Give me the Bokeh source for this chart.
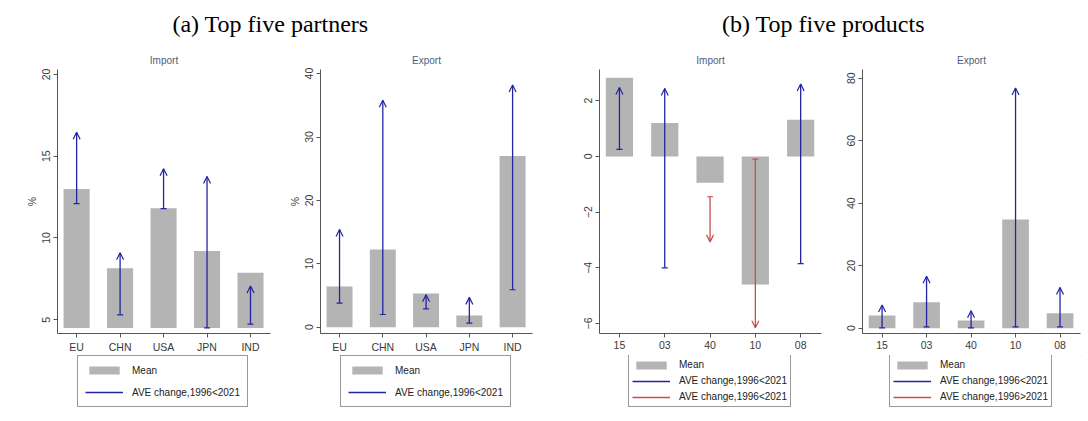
import numpy as np
from bokeh.plotting import figure
from bokeh.models import (ColumnDataSource, Range1d, FixedTicker, Legend, LegendItem,
                          Arrow, OpenHead, TeeHead, Spacer)
from bokeh.layouts import column, row
from bokeh.embed import file_html
from bokeh.resources import INLINE
from bokeh.core.properties import value

# ---------------- data ----------------
partners = ["EU", "CHN", "USA", "JPN", "IND"]
products = ["15", "03", "40", "10", "08"]

imp_partner_mean = [13.0, 8.15, 11.82, 9.2, 7.87]
imp_partner_start = [12.1, 5.3, 11.8, 4.5, 4.73]
imp_partner_end = [16.47, 9.1, 14.23, 13.76, 7.07]

exp_partner_mean = [6.4, 12.25, 5.3, 1.85, 27.0]
exp_partner_start = [3.8, 2.0, 2.9, 0.65, 5.9]
exp_partner_end = [15.4, 35.8, 5.1, 4.7, 38.2]

imp_product_mean = [2.82, 1.2, -0.95, -4.6, 1.32]
imp_product_start = [0.25, -4.0, -1.45, -0.1, -3.85]
imp_product_end = [2.47, 2.44, -3.07, -6.15, 2.6]

exp_product_mean = [4.05, 8.3, 2.5, 34.8, 4.8]
exp_product_start = [0.1, 0.4, 0.1, 0.4, 0.4]
exp_product_end = [7.4, 16.6, 5.6, 76.9, 13.0]

imp_partner_ticks = [5, 10, 15, 20]
exp_partner_ticks = [0, 10, 20, 30, 40]
imp_product_ticks = [-6, -4, -2, 0, 2]
exp_product_ticks = [0, 20, 40, 60, 80]

label_mean = "Mean"
label_up = "AVE change,1996<2021"
label_down_import = "AVE change,1996<2021"
label_down_export = "AVE change,1996>2021"

# ---------------- style ----------------
BAR = "#b4b4b4"
BLUE = "#2424a2"
RED = "#cc4a4a"
AXIS = "#555555"
TICKTXT = "#3a3a3a"
TITLE = "#4f5b78"
SANS = "Liberation Sans"


def main_fig(title, cats, mean, start, end, base, yrange, yticks, ylabel,
             width, left, right):
    p = figure(width=width, height=315,
               x_range=Range1d(-0.44, 4.46), y_range=Range1d(*yrange),
               output_backend="svg", toolbar_location=None,
               min_border_left=left, min_border_right=right,
               min_border_top=29, min_border_bottom=22, title=title)
    p.title.align = "center"
    p.title.text_font = SANS
    p.title.text_font_size = "10px"
    p.title.text_font_style = "normal"
    p.title.text_color = TITLE
    p.title.standoff = 7
    p.grid.visible = False
    p.outline_line_color = None

    x = np.arange(len(cats))
    mean = np.asarray(mean, dtype=float)
    start = np.asarray(start, dtype=float)
    end = np.asarray(end, dtype=float)
    up = end >= start

    p.vbar(x=x, top=mean, bottom=base, width=0.6, fill_color=BAR, line_color=None)
    for mask, col in [(up, BLUE), (~up, RED)]:
        src = ColumnDataSource(dict(x=x[mask], start=start[mask], end=end[mask]))
        p.segment(x0="x", y0="start", x1="x", y1="end", source=src,
                  line_color=col, line_width=1.3)
        p.add_layout(Arrow(start=TeeHead(size=6, line_color=col, line_width=1.2),
                           end=OpenHead(size=7, line_color=col, line_width=1.2),
                           x_start="x", y_start="start", x_end="x", y_end="end",
                           source=src, line_alpha=0))

    p.xaxis.ticker = FixedTicker(ticks=list(range(len(cats))))
    p.xaxis.major_label_overrides = {i: c for i, c in enumerate(cats)}
    p.yaxis.ticker = FixedTicker(ticks=yticks)
    p.yaxis.major_label_orientation = "vertical"
    for ax in (p.xaxis, p.yaxis):
        ax.axis_line_color = AXIS
        ax.major_tick_line_color = AXIS
        ax.minor_tick_line_color = None
        ax.major_tick_in = 0
        ax.major_tick_out = 4
        ax.major_label_text_font = SANS
        ax.major_label_text_font_size = "10.5px"
        ax.major_label_text_color = TICKTXT
        ax.major_label_standoff = 3
    if ylabel:
        p.yaxis.axis_label = ylabel
        p.yaxis.axis_label_text_font = SANS
        p.yaxis.axis_label_text_font_size = "10.5px"
        p.yaxis.axis_label_text_font_style = "normal"
        p.yaxis.axis_label_text_color = TICKTXT
        p.yaxis.axis_label_standoff = 2
    return p


def legend_fig(cats, mean, start, end, labels, width, left, right, leg_x, compact):
    # legend-only figure: proxy renderers use the panel's own data but sit
    # outside the visible x-range, so only the legend is seen
    lf = figure(width=width, height=60, x_range=Range1d(-10, -9), y_range=Range1d(-10, -9),
                output_backend="svg", toolbar_location=None,
                min_border_left=left, min_border_right=right,
                min_border_top=0, min_border_bottom=0,
                x_axis_type=None, y_axis_type=None)
    lf.grid.visible = False
    lf.outline_line_color = None
    x = np.arange(len(cats))
    src = ColumnDataSource(dict(x=x, mean=mean, start=start, end=end))
    bars = lf.vbar(x="x", top="mean", width=0.6, source=src, fill_color=BAR, line_color=None)
    items = [LegendItem(label=label_mean, renderers=[bars])]
    for lab, col in zip(labels, [BLUE, RED]):
        r = lf.segment(x0="x", y0="start", x1="x", y1="end", source=src,
                       line_color=col, line_width=1.3)
        items.append(LegendItem(label=lab, renderers=[r]))
    leg = Legend(items=items, location=(leg_x, 8), orientation="vertical")
    leg.border_line_color = "#333333"
    leg.border_line_width = 1
    leg.background_fill_color = "white"
    leg.label_text_font = SANS
    leg.label_text_font_size = "10px"
    leg.label_text_color = "#222222"
    leg.glyph_width = 38
    leg.glyph_height = 10
    leg.label_standoff = 9
    leg.margin = 0
    if compact:
        leg.padding = 3
        leg.spacing = 3
        leg.label_height = 13
    else:
        leg.padding = 7
        leg.spacing = 8
        leg.label_height = 14
    lf.add_layout(leg, "center")
    return lf


def strip(text, width, cx):
    s = figure(width=width, height=40, x_range=Range1d(0, width), y_range=Range1d(0, 40),
               output_backend="svg", toolbar_location=None,
               min_border_left=0, min_border_right=0, min_border_top=0, min_border_bottom=0,
               x_axis_type=None, y_axis_type=None)
    s.grid.visible = False
    s.outline_line_color = None
    s.text(x=[cx], y=[17], text=[text], text_font=value("Liberation Serif"),
           text_font_size="24px", text_align="center", text_baseline="alphabetic",
           text_color="black")
    return s


p1 = main_fig("Import", partners, imp_partner_mean, imp_partner_start, imp_partner_end, 4.5,
              (4.16, 20.3), imp_partner_ticks, "%", 280, 57, 10)
p2 = main_fig("Export", partners, exp_partner_mean, exp_partner_start, exp_partner_end, 0,
              (-1.0, 40.65), exp_partner_ticks, "%", 264, 40, 12)
p3 = main_fig("Import", products, imp_product_mean, imp_product_start, imp_product_end, 0,
              (-6.36, 3.12), imp_product_ticks, None, 268, 37, 9)
p4 = main_fig("Export", products, exp_product_mean, exp_product_start, exp_product_end, 0,
              (-1.7, 82.8), exp_product_ticks, None, 258, 32, 8)

l1 = legend_fig(partners, imp_partner_mean, imp_partner_start, imp_partner_end,
                [label_up], 280, 57, 10, 20, False)
l2 = legend_fig(partners, exp_partner_mean, exp_partner_start, exp_partner_end,
                [label_up], 264, 40, 12, 20, False)
l3 = legend_fig(products, imp_product_mean, imp_product_start, imp_product_end,
                [label_up, label_down_import], 268, 37, 9, 29, True)
l4 = legend_fig(products, exp_product_mean, exp_product_start, exp_product_end,
                [label_up, label_down_export], 258, 32, 8, 27, True)

sa = strip("(a) Top five partners", 544, 270)
sb = strip("(b) Top five products", 544, 279)

layout = column(row(sa, sb),
                row(column(p1, l1), column(p2, l2), Spacer(width=18, height=375),
                    column(p3, l3), column(p4, l4)))
open("out.html", "w").write(file_html(layout, INLINE))
